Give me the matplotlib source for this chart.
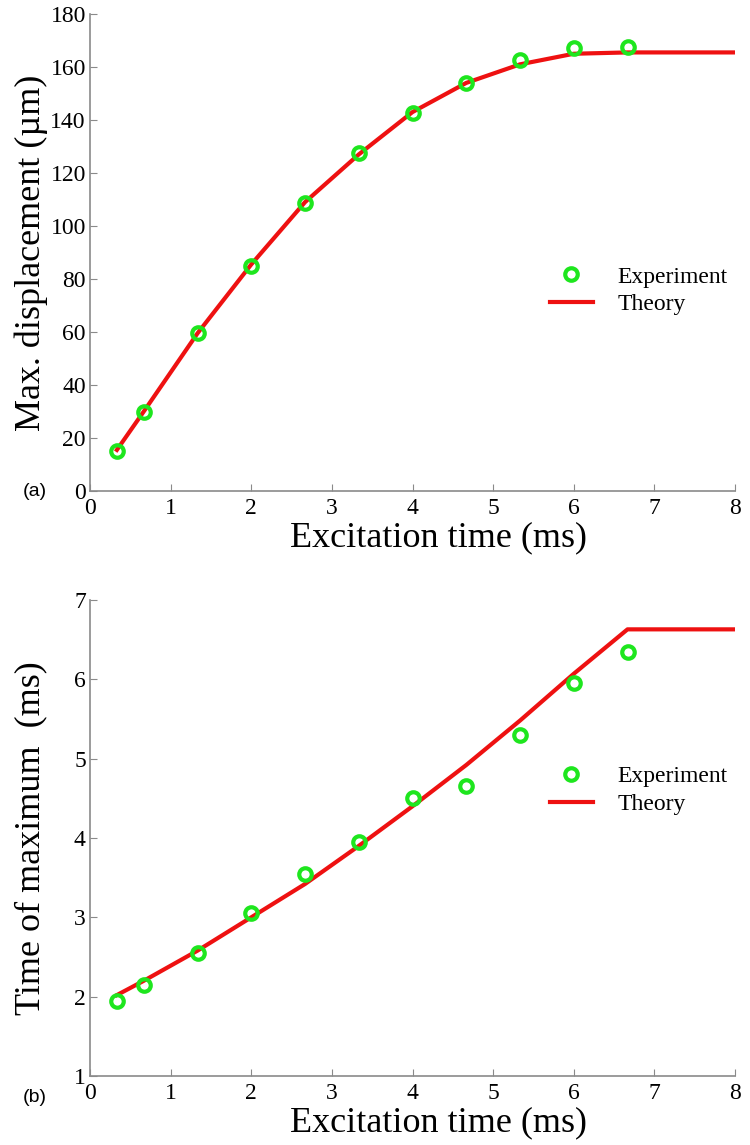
import numpy as np
import matplotlib.pyplot as plt

plt.rcParams['font.family'] = ['Liberation Serif', 'DejaVu Serif']

# excitation times (ms)
t_exp = [1/3, 2/3, 4/3, 2, 8/3, 10/3, 4, 14/3, 16/3, 6, 20/3]
t_th = [1/3, 2/3, 4/3, 2, 8/3, 10/3, 4, 14/3, 16/3, 6, 20/3, 8]

# (a) max displacement (um)
disp_exp = [15, 30, 59.5, 85, 108.5, 127.5, 142.5, 154, 162.5, 167, 167.5]
disp_th = [15.5, 30, 59.5, 85.5, 109, 127, 143, 154, 161, 165, 165.5, 165.5]

# (b) time of maximum (ms)
tmax_exp = [1.95, 2.15, 2.55, 3.05, 3.55, 3.95, 4.5, 4.65, 5.3, 5.95, 6.35]
tmax_th = [2.02, 2.2, 2.58, 3.0, 3.42, 3.9, 4.4, 4.92, 5.48, 6.07, 6.63, 6.63]

fig = plt.figure(figsize=(7.5, 11.45), dpi=100)
W, H = 750, 1145
ax1 = fig.add_axes([90 / W, 1 - 491 / H, 645 / W, 477 / H])
ax2 = fig.add_axes([90 / W, 1 - 1076 / H, 645 / W, 476 / H])

green = '#1ee61e'
red = '#ee1111'

def style(ax):
    for s in ['top', 'right']:
        ax.spines[s].set_visible(False)
    for s in ['left', 'bottom']:
        ax.spines[s].set_color('#8a8a8a')
        ax.spines[s].set_linewidth(1.2)
    ax.tick_params(direction='in', length=5, color='#8a8a8a', labelsize=17, pad=3)
    ax.tick_params(axis='x', pad=5)
    ax.set_xlim(0, 8)
    ax.set_xticks(range(0, 9))
    ax.set_xlabel('Excitation time (ms)', fontsize=26, labelpad=2, x=0.54)

def draw(ax, yexp, yth, ly):
    ax.plot(t_th, yth, color=red, lw=3, label='Theory', zorder=2)
    ax.plot(t_exp, yexp, 'o', ms=9, mfc='none', mec=green, mew=3,
            label='Experiment', zorder=3)
    h, l = ax.get_legend_handles_labels()
    ax.legend(h[::-1], l[::-1], frameon=False, fontsize=17, handlelength=1.8,
              handletextpad=1.05, labelspacing=0.25, loc='center right',
              bbox_to_anchor=(1.003, ly), borderaxespad=0.0)

style(ax1)
draw(ax1, disp_exp, disp_th, 0.42)
ax1.set_ylim(0, 180)
ax1.set_yticks(range(0, 181, 20))
ax1.set_ylabel('Max. displacement (µm)', fontsize=26, labelpad=2)
fig.text(35 / W, 1 - 492 / H, '(a)', fontsize=14, family='Liberation Sans',
         ha='center', va='center')

style(ax2)
draw(ax2, tmax_exp, tmax_th, 0.60)
ax2.set_ylim(1, 7)
ax2.set_yticks(range(1, 8))
ax2.set_ylabel('Time of maximum  (ms)', fontsize=26, labelpad=19)
fig.text(35 / W, 1 - 1098 / H, '(b)', fontsize=14, family='Liberation Sans',
         ha='center', va='center')

fig.savefig('out.png', dpi=100)
